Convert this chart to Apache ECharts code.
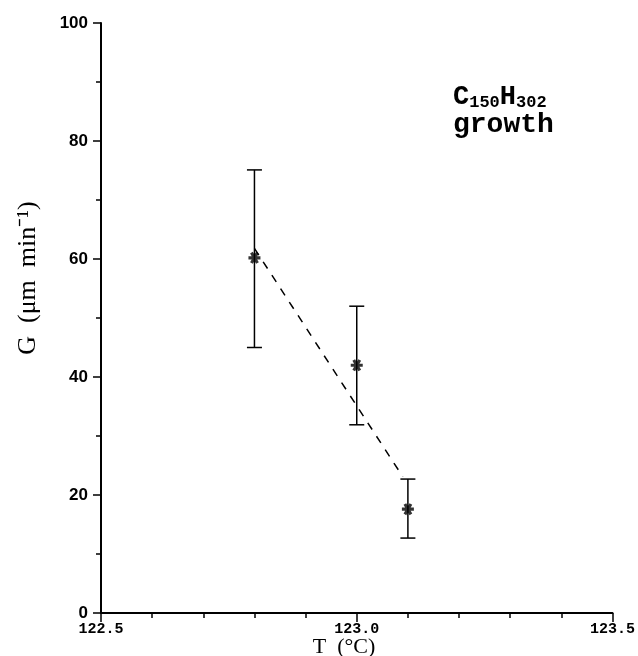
<!DOCTYPE html>
<html>
<head>
<meta charset="utf-8">
<script src="https://cdn.jsdelivr.net/npm/echarts@6/dist/echarts.min.js"></script>
<style>
  html, body { margin: 0; padding: 0; background: #fff; }
  #chart { width: 638px; height: 656px; }
</style>
</head>
<body>
<div id="chart"></div>
<script>
// temperature (°C) of each measurement
const temps = [122.8, 123.0, 123.1]
// growth rate G and its error bar ends
const growth = [60.2, 42.0, 17.6]
const growthLow = [45.0, 31.9, 12.7]
const growthHigh = [75.1, 52.0, 22.7]
// dashed fit line ends
const fitX = [122.8, 123.09]
const fitY = [61.8, 23.1]

// 6-armed asterisk marker
const star = 'path://M-5,-1.3L5,-1.3L5,1.3L-5,1.3Z' +
  'M-1.374,-4.98L3.626,3.68L1.374,4.98L-3.626,-3.68Z' +
  'M3.626,-3.68L-1.374,4.98L-3.626,3.68L1.374,-4.98Z'

const chart = echarts.init(document.getElementById('chart'))

chart.setOption({
  animation: false,
  grid: { left: 101, right: 20, top: 23, bottom: 43 },
  xAxis: {
    type: 'value',
    min: 122.5,
    max: 123.5,
    interval: 0.5,
    splitLine: { show: false },
    axisLine: { lineStyle: { color: '#000', width: 2 } },
    axisTick: { length: 9, lineStyle: { color: '#000', width: 1.5 } },
    minorTick: { show: true, splitNumber: 5, length: 5, lineStyle: { color: '#000', width: 1.5 } },
    axisLabel: {
      margin: 9,
      color: '#000',
      fontFamily: 'Liberation Mono',
      fontWeight: 'bold',
      fontSize: 15,
      formatter: v => v.toFixed(1)
    }
  },
  yAxis: {
    type: 'value',
    min: 0,
    max: 100,
    interval: 20,
    splitLine: { show: false },
    axisLine: { onZero: false, lineStyle: { color: '#000', width: 2 } },
    axisTick: { length: 8, lineStyle: { color: '#000', width: 1.5 } },
    minorTick: { show: true, splitNumber: 2, length: 5, lineStyle: { color: '#000', width: 1.5 } },
    axisLabel: {
      margin: 13,
      color: '#000',
      fontFamily: 'Liberation Sans',
      fontWeight: 'bold',
      fontSize: 17
    }
  },
  series: [
    {
      // error bars
      type: 'custom',
      data: temps.map((t, i) => [t, growthLow[i], growthHigh[i]]),
      renderItem: function (params, api) {
        const lo = api.coord([api.value(0), api.value(1)])
        const hi = api.coord([api.value(0), api.value(2)])
        const w = 7.5
        const style = { stroke: '#000', lineWidth: 1.5 }
        return {
          type: 'group',
          children: [
            { type: 'line', shape: { x1: lo[0], y1: lo[1], x2: hi[0], y2: hi[1] }, style },
            { type: 'line', shape: { x1: lo[0] - w, y1: lo[1], x2: lo[0] + w, y2: lo[1] }, style },
            { type: 'line', shape: { x1: hi[0] - w, y1: hi[1], x2: hi[0] + w, y2: hi[1] }, style }
          ]
        }
      },
      z: 2
    },
    {
      type: 'line',
      data: fitX.map((x, i) => [x, fitY[i]]),
      showSymbol: false,
      lineStyle: { color: '#000', width: 1.5, type: [8, 8] },
      z: 2
    },
    {
      type: 'scatter',
      data: temps.map((t, i) => [t, growth[i]]),
      symbol: star,
      symbolSize: 12,
      itemStyle: { color: '#000' },
      z: 3
    }
  ],
  graphic: [
    {
      type: 'text',
      left: 453,
      top: 84,
      style: {
        text: '{big|C}{sub|150}{big|H}{sub|302}',
        rich: {
          big: { fontFamily: 'Liberation Mono', fontSize: 27, fontWeight: 'bold', fill: '#000', verticalAlign: 'bottom' },
          sub: { fontFamily: 'Liberation Mono', fontSize: 17, fontWeight: 'bold', fill: '#000', padding: [6, 0, 0, 0], verticalAlign: 'bottom' }
        }
      }
    },
    {
      type: 'text',
      left: 453,
      top: 111,
      style: { text: 'growth', fontFamily: 'Liberation Mono', fontWeight: 'bold', fontSize: 28, fill: '#000' }
    },
    {
      type: 'text',
      x: 28,
      y: 278,
      rotation: Math.PI / 2,
      style: {
        text: 'G  (μm  min⁻¹)',
        fontFamily: 'Liberation Serif',
        fontSize: 26,
        fill: '#000',
        align: 'center',
        verticalAlign: 'middle'
      }
    },
    {
      type: 'text',
      x: 344,
      y: 647,
      style: {
        text: 'T  (°C)',
        fontFamily: 'Liberation Serif',
        fontSize: 22,
        fill: '#000',
        align: 'center',
        verticalAlign: 'middle'
      }
    }
  ]
})
</script>
</body>
</html>
